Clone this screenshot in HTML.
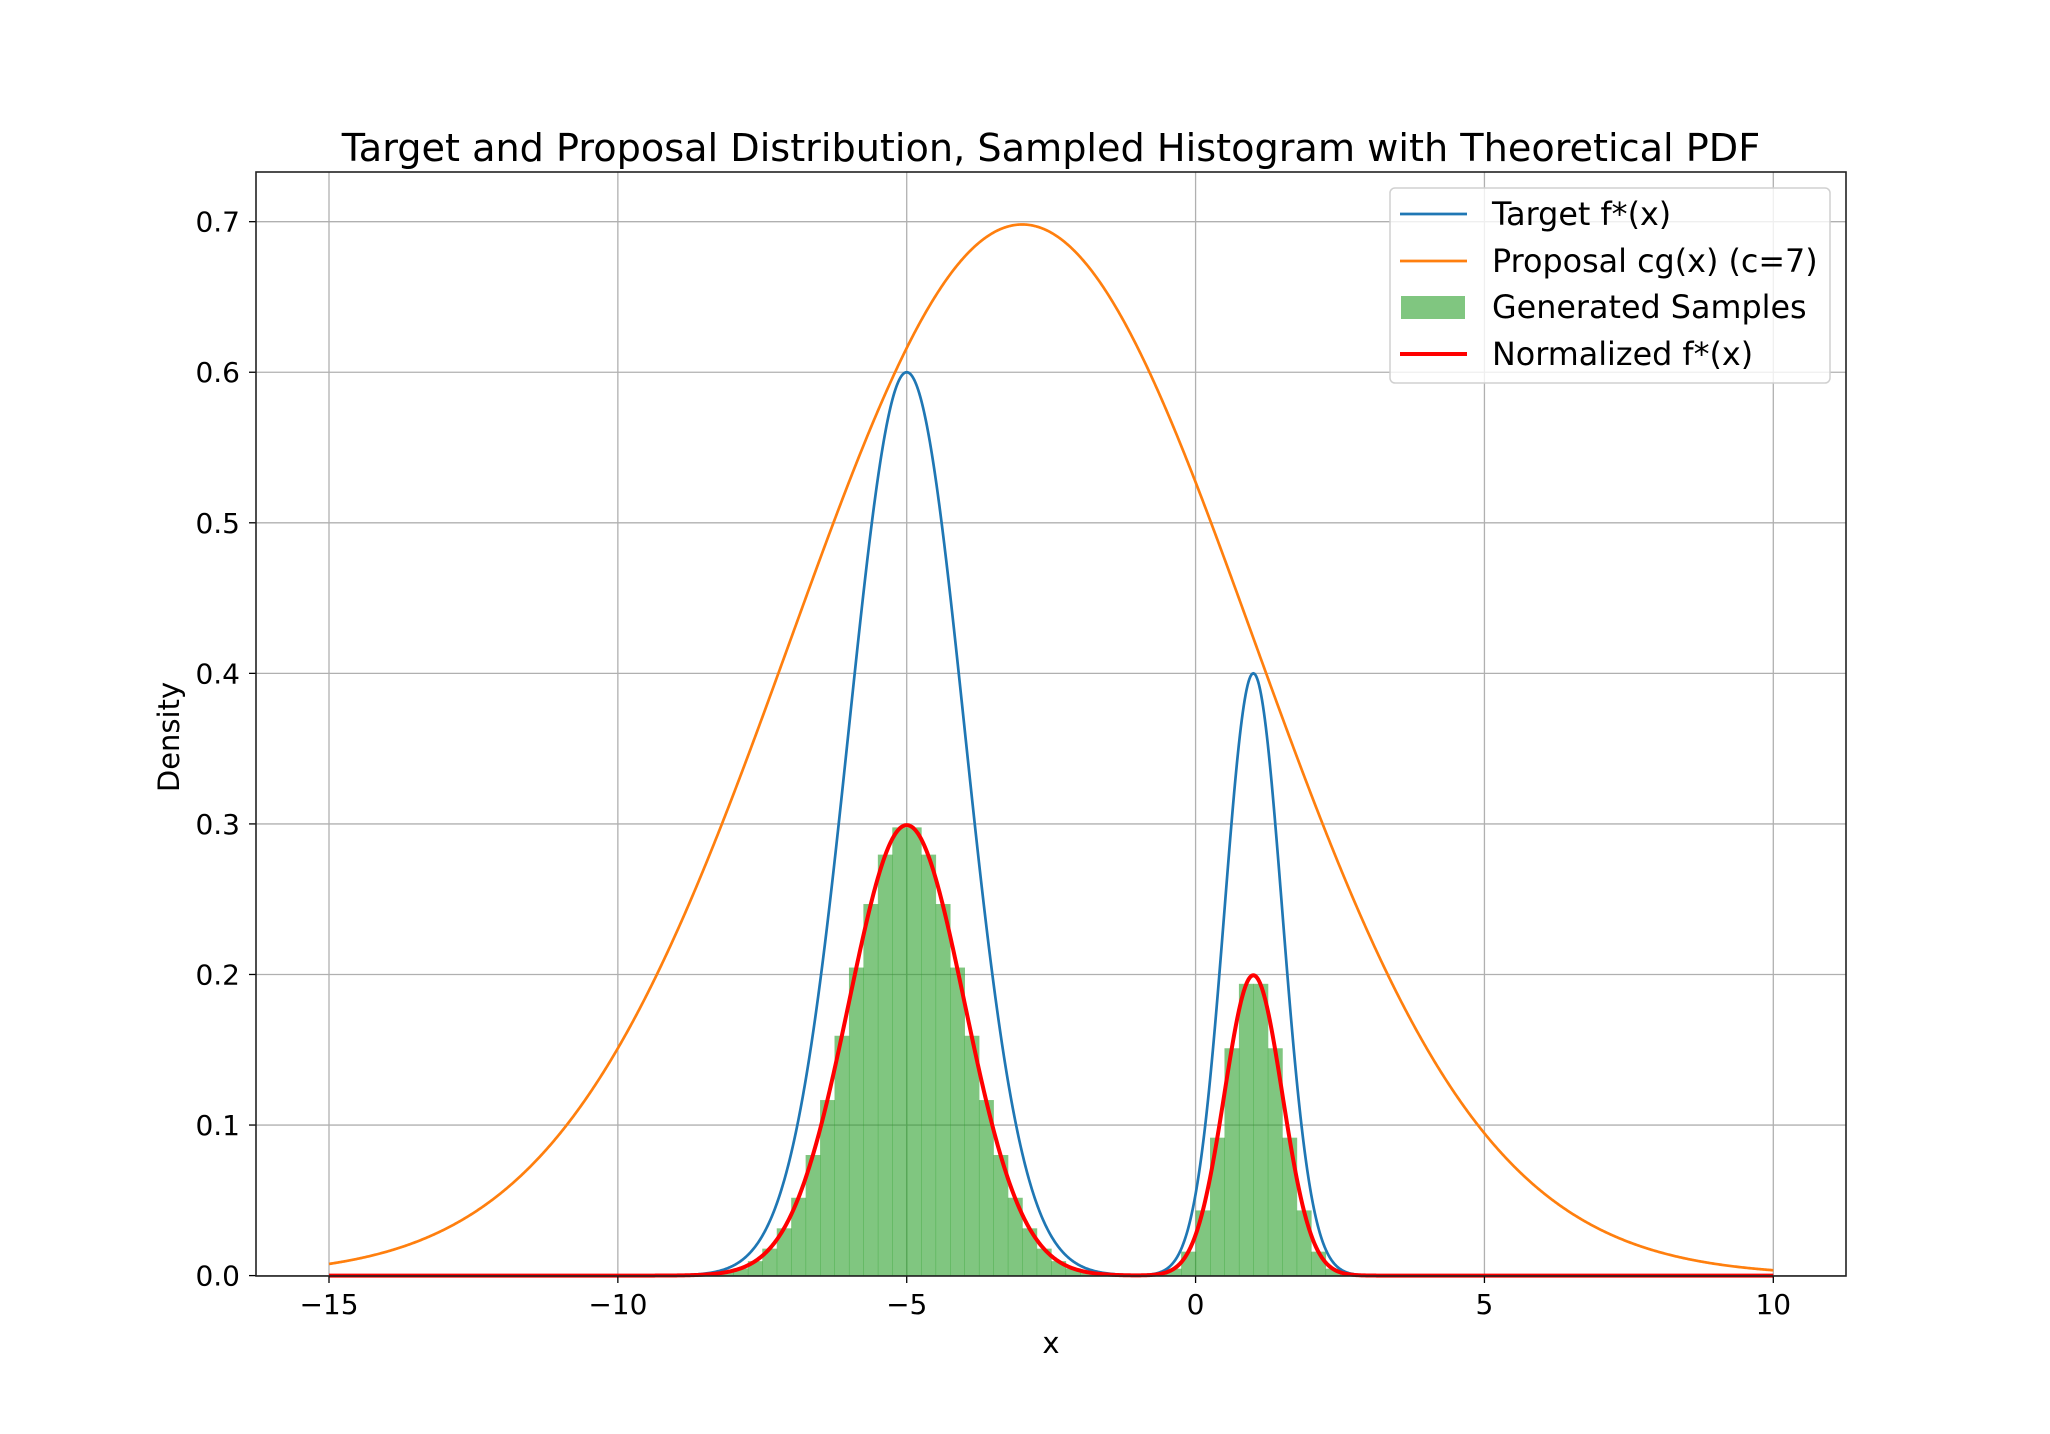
<!DOCTYPE html>
<html><head><meta charset="utf-8"><style>
html,body{margin:0;padding:0;background:#fff;}
svg{display:block;font-family:"DejaVu Sans","Liberation Sans",sans-serif;}
</style></head><body>
<svg id="chart" width="2050" height="1434" viewBox="0 0 2050 1434" xmlns="http://www.w3.org/2000/svg">
<rect width="2050" height="1434" fill="#fff"/>
<g id="grid"></g>
<g id="hist"></g>
<g id="lines"></g>
<g id="axes"></g>
<text x="1051" y="161" font-size="38.2" text-anchor="middle">Target and Proposal Distribution, Sampled Histogram with Theoretical PDF</text>
<text x="1051" y="1353" font-size="29" text-anchor="middle">x</text>
<text transform="translate(179,737) rotate(-90)" font-size="29" text-anchor="middle">Density</text>
<g>
<rect x="1390" y="188" width="440" height="195" rx="5" fill="#fff" fill-opacity="0.8" stroke="#d0d0d0" stroke-width="1.5"/>
<g><line x1="1400" y1="214" x2="1467" y2="214" stroke="#1f77b4" stroke-width="2.7"/><text x="1492" y="225" font-size="31.8">Target f*(x)</text></g>
<g><line x1="1400" y1="261" x2="1467" y2="261" stroke="#ff7f0e" stroke-width="2.7"/><text x="1492" y="272" font-size="31.8">Proposal cg(x) (c=7)</text></g>
<g><rect x="1401" y="296" width="64" height="23" fill="#2ca02c" fill-opacity="0.6"/><text x="1492" y="318" font-size="31.8">Generated Samples</text></g>
<g><line x1="1400" y1="354" x2="1467" y2="354" stroke="#ff0000" stroke-width="4"/><text x="1492" y="365" font-size="31.8">Normalized f*(x)</text></g>
</g>
</svg>
<script>
const xTicks = [-15, -10, -5, 0, 5, 10];
const xTickLabels = ["\u221215", "\u221210", "\u22125", "0", "5", "10"];
const yTicks = [0, 0.1, 0.2, 0.3, 0.4, 0.5, 0.6, 0.7];
const yTickLabels = ["0.0", "0.1", "0.2", "0.3", "0.4", "0.5", "0.6", "0.7"];
const targetMeans = [-5, 1];
const targetSigmas = [1, 0.5];
const targetPeaks = [0.6, 0.4];
const proposalMean = [-3];
const proposalSigma = [4];
const proposalC = [7];
const curveRange = [-15, 10];
const histStart = [-8.5];
const histBinWidth = [0.25];
const histHeights = [0.001,0.0023,0.0048,0.0096,0.0179,0.0314,0.0517,0.0801,0.1166,0.1593,0.2046,0.2468,0.2796,0.2977,0.2977,0.2796,0.2468,0.2046,0.1593,0.1166,0.0801,0.0517,0.0314,0.0179,0.0096,0.0048,0.0023,0.001,0.0004,0.0002,0.0002,0.001,0.0046,0.0159,0.0433,0.0916,0.151,0.1938,0.1938,0.151,0.0916,0.0433,0.0159,0.0046,0.001,0.0002];

const L=256,R=1846,T=172,B=1276;
const X0=329, XU=(1773.3-329)/25;
const Y0=1275.6, YU=1505.6;
const sx=v=>X0+(v+15)*XU;
const sy=v=>Y0-v*YU;
const NS="http://www.w3.org/2000/svg";
function mk(tag,attrs,parent){const e=document.createElementNS(NS,tag);for(const k in attrs)e.setAttribute(k,attrs[k]);parent.appendChild(e);return e;}
const grid=document.getElementById('grid'),axes=document.getElementById('axes'),hist=document.getElementById('hist'),lines=document.getElementById('lines');

xTicks.forEach((t,i)=>{
  const g=mk('line',{x1:sx(t),x2:sx(t),y1:T,y2:B,stroke:'#b0b0b0','stroke-width':1.3},grid);
  
  
  const tk=mk('line',{x1:sx(t),x2:sx(t),y1:B,y2:B+7,stroke:'#000','stroke-width':1.3},axes);
  
  
  const tx=mk('text',{x:sx(t),y:1314,'font-size':28,'text-anchor':'middle'},axes);
  tx.textContent=xTickLabels[i];
  
  
});
yTicks.forEach((t,i)=>{
  const g=mk('line',{x1:L,x2:R,y1:sy(t),y2:sy(t),stroke:'#b0b0b0','stroke-width':1.3},grid);
  
  
  const tk=mk('line',{x1:L-7,x2:L,y1:sy(t),y2:sy(t),stroke:'#000','stroke-width':1.3},axes);
  
  
  const tx=mk('text',{x:240,y:sy(t)+10,'font-size':28,'text-anchor':'end'},axes);
  tx.textContent=yTickLabels[i];
  
  
});
const frame=mk('rect',{x:L,y:T,width:R-L,height:B-T,fill:'none',stroke:'#222','stroke-width':1.6},axes);



histHeights.forEach((h,i)=>{
  const a=histStart[0]+i*histBinWidth[0];
  const r=mk('rect',{x:sx(a),y:sy(h),width:sx(a+histBinWidth[0])-sx(a)+0.5,height:Y0-sy(h),fill:'#2ca02c','fill-opacity':0.6},hist);
  
  
});

function target(x){let s=0;for(let k=0;k<targetMeans.length;k++){const d=(x-targetMeans[k])/targetSigmas[k];s+=targetPeaks[k]*Math.exp(-0.5*d*d);}return s;}
let area=0;for(let k=0;k<targetMeans.length;k++)area+=targetPeaks[k]*targetSigmas[k]*Math.sqrt(2*Math.PI);
function proposal(x){const d=(x-proposalMean[0])/proposalSigma[0];return proposalC[0]*Math.exp(-0.5*d*d)/(proposalSigma[0]*Math.sqrt(2*Math.PI));}
function path(f){let p='';const n=1500;for(let i=0;i<=n;i++){const x=curveRange[0]+(curveRange[1]-curveRange[0])*i/n;p+=(i?'L':'M')+sx(x).toFixed(2)+','+sy(f(x)).toFixed(2);}return p;}
const pb=mk('path',{d:path(target),fill:'none',stroke:'#1f77b4','stroke-width':2.7},lines);


const po=mk('path',{d:path(proposal),fill:'none',stroke:'#ff7f0e','stroke-width':2.7},lines);


const pr=mk('path',{d:path(x=>target(x)/area),fill:'none',stroke:'#ff0000','stroke-width':4},lines);


</script>
</body></html>
